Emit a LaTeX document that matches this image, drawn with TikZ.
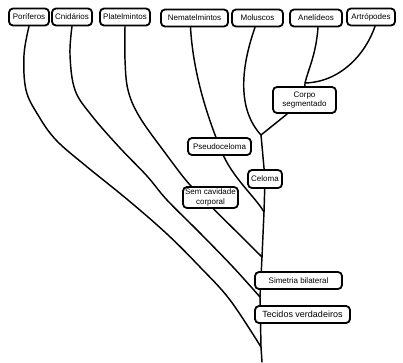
\documentclass[tikz,border=0pt]{standalone}
\usepackage{fontspec}
\setmainfont{Liberation Sans}
\usetikzlibrary{backgrounds}
\begin{document}
\begin{tikzpicture}[x=1pt,y=-1pt,
  box/.style={draw,line width=1.8pt,rounded corners=4pt,fill=white,inner sep=1pt,
    font=\fontsize{8}{9.5}\selectfont,align=center,minimum height=17pt},
  branch/.style={line width=1.45pt,line cap=round,line join=round}]
\useasboundingbox (0,0) rectangle (403,362);
% taxa
\node[box,minimum width=40pt] (por) at (29,17) {Poríferos};
\node[box,minimum width=40pt] (cni) at (72,17) {Cnidários};
\node[box,minimum width=50pt] (pla) at (125,17) {Platelmintos};
\node[box,minimum width=67pt] (nem) at (194.5,18) {Nematelmintos};
\node[box,minimum width=51pt] (mol) at (257.5,18) {Moluscos};
\node[box,minimum width=52pt] (ane) at (316,18) {Anelídeos};
\node[box,minimum width=48pt] (art) at (371,17) {Artrópodes};
% characters
\node[box,minimum width=63pt,minimum height=26pt] (corpo) at (304.5,100) {Corpo\\segmentado};
\node[box,minimum width=63pt] (pseudo) at (219.5,146.5) {Pseudoceloma};
\node[box,minimum width=34pt,minimum height=18pt] (celoma) at (265,179) {Celoma};
\node[box,minimum width=55pt,minimum height=21pt] (sem) at (210.5,197.5) {Sem cavidade\\corporal};
\node[box,minimum width=87pt] (sim) at (298.5,280.5) {Simetria bilateral};
\node[box,minimum width=95pt,font=\fontsize{9}{10}\selectfont] (tec) at (302.5,314.5) {Tecidos verdadeiros};
% junctions
\coordinate (jMol) at (261,135);
\coordinate (jArt) at (305,83);
\coordinate (jNem) at (264,212);
\coordinate (jPla) at (262,257);
\coordinate (jCni) at (260,297);
\coordinate (jPor) at (261,347);
\coordinate (root) at (262,362);
\begin{scope}[on background layer]
% trunk
\draw[branch] (jMol) -- (265,179) -- (jNem) -- (jPla) -- (jCni) -- (jPor) -- (root);
% Porifera
\draw[branch] plot[smooth,tension=0.6] coordinates {(por.south) (24,55) (26,90) (38,115) (56,140) (86,166) (128,200) (167,234) (200,267) (230,300) (jPor)};
% Cnidaria
\draw[branch] plot[smooth,tension=0.6] coordinates {(cni.south) (70,55) (75,90) (92,116) (120,148) (147,176) (167,200) (200,233) (233,267) (jCni)};
% Platyhelminthes
\draw[branch] plot[smooth,tension=0.6] coordinates {(pla.south) (125,60) (128,90) (139,116) (163,150) (192,187) (sem.center)};
\draw[branch] ([xshift=3pt]sem.south) -- (jPla);
% Nematoda
\draw[branch] ([xshift=-4pt]nem.south) .. controls (193,70) and (205,110) .. (pseudo.center);
\draw[branch] ([xshift=4pt]pseudo.south) .. controls (235,180) and (256,198) .. (jNem);
% Mollusca
\draw[branch] ([xshift=-2.5pt]mol.south) .. controls (240,70) and (238,110) .. (jMol);
% Annelida / Arthropoda
\draw[branch] ([xshift=2pt]ane.south) .. controls (316,55) and (308,70) .. (jArt) -- (corpo.center);
\draw[branch] ([xshift=4pt]art.south) .. controls (365,55) and (340,82) .. (jArt);
\draw[branch] (corpo) -- (jMol);
\end{scope}
\end{tikzpicture}
\end{document}
